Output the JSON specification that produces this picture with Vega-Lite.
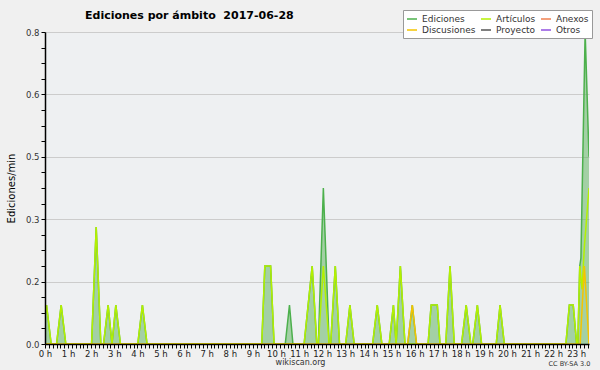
{
  "$schema": "https://vega.github.io/schema/vega-lite/v6.json",
  "width": 544,
  "height": 312,
  "autosize": {"type": "none"},
  "padding": {"left": 45, "top": 32, "right": 11, "bottom": 26},
  "background": "#f0f0f0",
  "title": {
    "text": "Ediciones por ámbito\u00a0 2017-06-28",
    "anchor": "start",
    "frame": "group",
    "dx": 40,
    "dy": 23,
    "offset": 12,
    "fontSize": 11,
    "fontWeight": "bold",
    "color": "#000000",
    "font": "DejaVu Sans"
  },
  "config": {
    "font": "DejaVu Sans",
    "view": {"fill": "#eef0f2", "stroke": null}
  },
  "data": {
    "values": [
      {"s": "Ediciones", "t": 0, "v": 0.07}, {"s": "Ediciones", "t": 4, "v": 0.1}, {"s": "Ediciones", "t": 16, "v": 0},
      {"s": "Ediciones", "t": 30, "v": 0}, {"s": "Ediciones", "t": 42, "v": 0.1}, {"s": "Ediciones", "t": 54, "v": 0},
      {"s": "Ediciones", "t": 121, "v": 0}, {"s": "Ediciones", "t": 133, "v": 0.3}, {"s": "Ediciones", "t": 145, "v": 0},
      {"s": "Ediciones", "t": 152, "v": 0}, {"s": "Ediciones", "t": 164, "v": 0.1}, {"s": "Ediciones", "t": 174, "v": 0}, {"s": "Ediciones", "t": 184, "v": 0.1}, {"s": "Ediciones", "t": 196, "v": 0},
      {"s": "Ediciones", "t": 241, "v": 0}, {"s": "Ediciones", "t": 253, "v": 0.1}, {"s": "Ediciones", "t": 265, "v": 0},
      {"s": "Ediciones", "t": 563, "v": 0}, {"s": "Ediciones", "t": 571, "v": 0.2}, {"s": "Ediciones", "t": 586, "v": 0.2}, {"s": "Ediciones", "t": 595, "v": 0},
      {"s": "Ediciones", "t": 624, "v": 0}, {"s": "Ediciones", "t": 635, "v": 0.1}, {"s": "Ediciones", "t": 644, "v": 0},
      {"s": "Ediciones", "t": 673, "v": 0}, {"s": "Ediciones", "t": 694, "v": 0.2}, {"s": "Ediciones", "t": 706, "v": 0},
      {"s": "Ediciones", "t": 710, "v": 0}, {"s": "Ediciones", "t": 723, "v": 0.4}, {"s": "Ediciones", "t": 738, "v": 0},
      {"s": "Ediciones", "t": 742, "v": 0}, {"s": "Ediciones", "t": 754, "v": 0.2}, {"s": "Ediciones", "t": 765, "v": 0},
      {"s": "Ediciones", "t": 781, "v": 0}, {"s": "Ediciones", "t": 792, "v": 0.1}, {"s": "Ediciones", "t": 803, "v": 0},
      {"s": "Ediciones", "t": 851, "v": 0}, {"s": "Ediciones", "t": 863, "v": 0.1}, {"s": "Ediciones", "t": 875, "v": 0},
      {"s": "Ediciones", "t": 894, "v": 0}, {"s": "Ediciones", "t": 905, "v": 0.1}, {"s": "Ediciones", "t": 912, "v": 0}, {"s": "Ediciones", "t": 923, "v": 0.2}, {"s": "Ediciones", "t": 935, "v": 0},
      {"s": "Ediciones", "t": 942, "v": 0}, {"s": "Ediciones", "t": 954, "v": 0.1}, {"s": "Ediciones", "t": 965, "v": 0},
      {"s": "Ediciones", "t": 995, "v": 0}, {"s": "Ediciones", "t": 1003, "v": 0.1}, {"s": "Ediciones", "t": 1019, "v": 0.1}, {"s": "Ediciones", "t": 1026, "v": 0},
      {"s": "Ediciones", "t": 1041, "v": 0}, {"s": "Ediciones", "t": 1052, "v": 0.2}, {"s": "Ediciones", "t": 1063, "v": 0},
      {"s": "Ediciones", "t": 1082, "v": 0}, {"s": "Ediciones", "t": 1094, "v": 0.1}, {"s": "Ediciones", "t": 1106, "v": 0},
      {"s": "Ediciones", "t": 1111, "v": 0}, {"s": "Ediciones", "t": 1123, "v": 0.1}, {"s": "Ediciones", "t": 1134, "v": 0},
      {"s": "Ediciones", "t": 1172, "v": 0}, {"s": "Ediciones", "t": 1182, "v": 0.1}, {"s": "Ediciones", "t": 1193, "v": 0},
      {"s": "Ediciones", "t": 1353, "v": 0}, {"s": "Ediciones", "t": 1362, "v": 0.1}, {"s": "Ediciones", "t": 1372, "v": 0.1}, {"s": "Ediciones", "t": 1381, "v": 0},
      {"s": "Ediciones", "t": 1384, "v": 0}, {"s": "Ediciones", "t": 1389, "v": 0.2}, {"s": "Ediciones", "t": 1392, "v": 0.22}, {"s": "Ediciones", "t": 1403, "v": 0.8}, {"s": "Ediciones", "t": 1413, "v": 0.48},

      {"s": "Artículos", "t": 0, "v": 0.07}, {"s": "Artículos", "t": 4, "v": 0.1}, {"s": "Artículos", "t": 16, "v": 0},
      {"s": "Artículos", "t": 30, "v": 0}, {"s": "Artículos", "t": 42, "v": 0.1}, {"s": "Artículos", "t": 54, "v": 0},
      {"s": "Artículos", "t": 121, "v": 0}, {"s": "Artículos", "t": 133, "v": 0.3}, {"s": "Artículos", "t": 145, "v": 0},
      {"s": "Artículos", "t": 152, "v": 0}, {"s": "Artículos", "t": 164, "v": 0.1}, {"s": "Artículos", "t": 174, "v": 0}, {"s": "Artículos", "t": 184, "v": 0.1}, {"s": "Artículos", "t": 196, "v": 0},
      {"s": "Artículos", "t": 241, "v": 0}, {"s": "Artículos", "t": 253, "v": 0.1}, {"s": "Artículos", "t": 265, "v": 0},
      {"s": "Artículos", "t": 563, "v": 0}, {"s": "Artículos", "t": 571, "v": 0.2}, {"s": "Artículos", "t": 586, "v": 0.2}, {"s": "Artículos", "t": 595, "v": 0},
      {"s": "Artículos", "t": 673, "v": 0}, {"s": "Artículos", "t": 694, "v": 0.2}, {"s": "Artículos", "t": 706, "v": 0},
      {"s": "Artículos", "t": 710, "v": 0}, {"s": "Artículos", "t": 723, "v": 0.2}, {"s": "Artículos", "t": 738, "v": 0},
      {"s": "Artículos", "t": 742, "v": 0}, {"s": "Artículos", "t": 754, "v": 0.2}, {"s": "Artículos", "t": 765, "v": 0},
      {"s": "Artículos", "t": 781, "v": 0}, {"s": "Artículos", "t": 792, "v": 0.1}, {"s": "Artículos", "t": 803, "v": 0},
      {"s": "Artículos", "t": 851, "v": 0}, {"s": "Artículos", "t": 863, "v": 0.1}, {"s": "Artículos", "t": 875, "v": 0},
      {"s": "Artículos", "t": 894, "v": 0}, {"s": "Artículos", "t": 905, "v": 0.1}, {"s": "Artículos", "t": 912, "v": 0}, {"s": "Artículos", "t": 923, "v": 0.2}, {"s": "Artículos", "t": 935, "v": 0},
      {"s": "Artículos", "t": 995, "v": 0}, {"s": "Artículos", "t": 1003, "v": 0.1}, {"s": "Artículos", "t": 1019, "v": 0.1}, {"s": "Artículos", "t": 1026, "v": 0},
      {"s": "Artículos", "t": 1041, "v": 0}, {"s": "Artículos", "t": 1052, "v": 0.2}, {"s": "Artículos", "t": 1063, "v": 0},
      {"s": "Artículos", "t": 1082, "v": 0}, {"s": "Artículos", "t": 1094, "v": 0.1}, {"s": "Artículos", "t": 1106, "v": 0},
      {"s": "Artículos", "t": 1111, "v": 0}, {"s": "Artículos", "t": 1123, "v": 0.1}, {"s": "Artículos", "t": 1134, "v": 0},
      {"s": "Artículos", "t": 1172, "v": 0}, {"s": "Artículos", "t": 1182, "v": 0.1}, {"s": "Artículos", "t": 1193, "v": 0},
      {"s": "Artículos", "t": 1353, "v": 0}, {"s": "Artículos", "t": 1362, "v": 0.1}, {"s": "Artículos", "t": 1372, "v": 0.1}, {"s": "Artículos", "t": 1381, "v": 0},
      {"s": "Artículos", "t": 1384, "v": 0}, {"s": "Artículos", "t": 1389, "v": 0.2}, {"s": "Artículos", "t": 1395, "v": 0.14}, {"s": "Artículos", "t": 1401, "v": 0.25}, {"s": "Artículos", "t": 1413, "v": 0.4},

      {"s": "Discusiones", "t": 0, "v": 0}, {"s": "Discusiones", "t": 942, "v": 0}, {"s": "Discusiones", "t": 954, "v": 0.1}, {"s": "Discusiones", "t": 965, "v": 0},
      {"s": "Discusiones", "t": 1390, "v": 0}, {"s": "Discusiones", "t": 1401, "v": 0.2}, {"s": "Discusiones", "t": 1413, "v": 0}
    ]
  },
  "layer": [
    {
      "transform": [{"filter": "datum.s == 'Ediciones'"}],
      "mark": {"type": "area", "color": "#58b058", "opacity": 0.5, "clip": true},
      "encoding": {
        "x": {
          "field": "t", "type": "quantitative",
          "scale": {"domain": [0, 1413], "nice": false, "zero": false},
          "axis": {
            "orient": "bottom", "tickCount": 141,
            "labelExpr": "datum.value % 60 == 0 ? (datum.value / 60) + ' h' : ''",
            "labelOverlap": false, "labelFlush": false, "labelBound": false,
            "tickSize": 4, "tickColor": "#000000", "tickWidth": 1,
            "domainColor": "#000000", "domainWidth": 1.5,
            "labelFontSize": 8.5, "labelColor": "#222222", "labelPadding": 1,
            "grid": false,
            "title": "wikiscan.org", "titleFontSize": 8, "titleFontWeight": "normal", "titleColor": "#333333",
            "titleX": 255, "titleY": 14, "titleBaseline": "top",
            "zindex": 1
          }
        },
        "y": {
          "field": "v", "type": "quantitative",
          "scale": {"domain": [0, 0.8], "nice": false},
          "axis": {
            "orient": "left",
            "values": [0, 0.04, 0.08, 0.12, 0.16, 0.2, 0.24, 0.28, 0.32, 0.36, 0.4, 0.44, 0.48, 0.52, 0.56, 0.6, 0.64, 0.68, 0.72, 0.76, 0.8],
            "labelExpr": "round(datum.value * 25) % 4 == 0 ? format(datum.value, '.1f') : ''",
            "labelOverlap": false, "labelFlush": false,
            "grid": false,
            "tickSize": 4, "tickColor": "#000000",
            "domainColor": "#000000", "domainWidth": 1.5,
            "labelFontSize": 8.5, "labelColor": "#333333", "labelPadding": 2,
            "title": "Ediciones/min", "titleFontSize": 10, "titleFontWeight": "normal", "titleColor": "#000000",
            "titleX": -34, "titleY": 156, "titleBaseline": "middle",
            "zindex": 1
          }
        }
      }
    },
    {
      "transform": [{"filter": "datum.s == 'Ediciones'"}],
      "mark": {"type": "line", "strokeWidth": 1.5, "clip": true},
      "encoding": {
        "x": {"field": "t", "type": "quantitative", "scale": {"domain": [0, 1413], "nice": false, "zero": false}, "axis": null},
        "y": {"field": "v", "type": "quantitative", "scale": {"domain": [0, 0.8], "nice": false}, "axis": null},
        "color": {
          "field": "s", "type": "nominal", "title": null,
          "scale": {
            "domain": ["Ediciones", "Artículos", "Anexos", "Discusiones", "Proyecto", "Otros"],
            "range": ["#4cb04c", "#b4f000", "#f08050", "#f5c400", "#555555", "#9050e0"]
          },
          "legend": {
            "orient": "none", "legendX": 358, "legendY": -22,
            "direction": "horizontal",
            "columns": 3, "symbolType": "stroke", "symbolStrokeWidth": 1.5, "symbolSize": 100,
            "labelFontSize": 9, "labelColor": "#333333", "labelOffset": 4,
            "rowPadding": -2, "columnPadding": 2, "padding": 3,
            "fillColor": "#ffffff", "strokeColor": "#999999", "title": null
          }
        }
      }
    },
    {
      "transform": [{"filter": "datum.s == 'Artículos'"}],
      "mark": {"type": "line", "strokeWidth": 1.5, "clip": true},
      "encoding": {
        "x": {"field": "t", "type": "quantitative", "scale": {"domain": [0, 1413], "nice": false, "zero": false}, "axis": null},
        "y": {"field": "v", "type": "quantitative", "scale": {"domain": [0, 0.8], "nice": false}, "axis": null},
        "color": {"field": "s", "type": "nominal", "title": null}
      }
    },
    {
      "transform": [{"filter": "datum.s == 'Discusiones'"}],
      "mark": {"type": "line", "strokeWidth": 1.5, "clip": true},
      "encoding": {
        "x": {
          "field": "t", "type": "quantitative", "scale": {"domain": [0, 1413], "nice": false, "zero": false},
          "axis": {
            "orient": "bottom", "domain": false, "ticks": false, "labels": false, "grid": false,
            "title": "CC BY-SA 3.0", "titleFontSize": 6.5, "titleFontWeight": "normal", "titleColor": "#333333",
            "titleX": 524, "titleY": 16, "titleBaseline": "top"
          }
        },
        "y": {
          "field": "v", "type": "quantitative", "scale": {"domain": [0, 0.8], "nice": false},
          "axis": {
            "orient": "right", "domain": false, "ticks": false, "labels": false, "title": null,
            "values": [0.16, 0.32, 0.48, 0.64, 0.8],
            "grid": true, "gridColor": "#cccccc", "gridWidth": 1, "zindex": 0
          }
        },
        "color": {"field": "s", "type": "nominal", "title": null}
      }
    }
  ],
  "resolve": {"axis": {"x": "independent", "y": "independent"}}
}
